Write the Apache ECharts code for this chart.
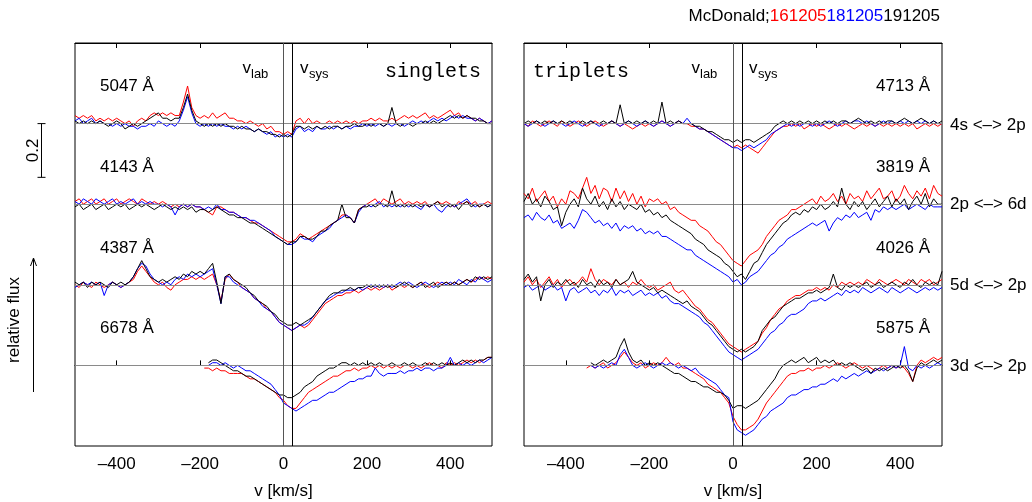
<!DOCTYPE html>
<html>
<head>
<meta charset="utf-8">
<script src="https://cdn.jsdelivr.net/npm/echarts@6/dist/echarts.min.js"></script>
<style>
html, body { margin: 0; padding: 0; background: #fff; }
#chart { width: 1032px; height: 502px; }
</style>
</head>
<body>
<div id="chart"></div>
<script>
// ---- sampling and reference velocities (km/s) ----
const VEL_STEP = 10;
const velTicks = [-400, -200, 0, 200, 400];
const vLab = 0;
const vSys = 22;

// vertical offsets of the four stacked line profiles (relative flux)
const offsets = [0.9, 0.6, 0.3, 0.0];

// ---- line profiles: deviation from continuum in percent, one value per 10 km/s ----
// He I 5047 (v = -500 ... 500)
const he5047_red = [
  3,2,3,2,3,1,2,1,2,1,  2,1,0,1,-1,1,2,1,3,4,  3,4,3,4,3,3,8,14,6,3,  2,3,2,4,2,3,4,2,2,1,
  1,0,1,0,-1,0,-2,-1,-3,-3,  -4,-3,-4,1,2,0,2,0,1,0,  0,1,0,1,0,1,0,1,0,1,  1,2,1,2,1,1,2,1,2,3,
  2,3,2,3,4,2,3,2,3,4,  5,3,4,2,3,2,1,2,1,0,  1];
const he5047_blue = [
  1,2,0,1,2,0,1,0,0,-1,  0,-1,0,-1,-1,-2,-1,-1,0,-1,  1,0,-1,0,-1,1,5,10,4,0,  -1,0,-1,0,-1,0,-1,-1,-2,-1,
  -2,-1,-2,-3,-2,-3,-4,-3,-5,-4,  -5,-4,-5,-2,-1,-3,-2,-3,-1,-2,  -2,-1,-2,-1,-2,-1,-2,-1,-1,0,  -1,0,-1,0,-1,0,-1,0,0,-1,
  0,1,0,1,0,1,2,1,2,1,  2,3,2,3,2,2,1,2,1,0,  1];
const he5047_black = [
  1,0,1,0,1,0,1,0,-1,0,  1,0,-2,-1,0,-1,0,1,2,3,  4,2,2,1,2,2,6,11,5,1,  0,-1,0,-1,0,-1,0,-1,-1,-2,
  -1,-2,-2,-3,-2,-3,-3,-4,-4,-5,  -4,-5,-4,-1,-1,-2,-1,-2,-1,-2,  -1,-2,-1,-1,-2,-1,-1,0,-1,-1,  0,-1,0,0,-1,0,6,0,-1,0,
  0,-1,0,0,1,0,1,0,1,2,  3,2,3,2,3,2,2,1,1,0,  0];

// He I 4143
const he4143_red = [
  1,2,0,1,2,0,1,2,0,1,  2,0,1,2,1,0,2,1,0,1,  0,1,0,-1,0,-1,0,-1,0,-1,  -1,-2,-3,-4,-1,-1,-2,-3,-3,-4,
  -5,-5,-6,-7,-7,-8,-9,-10,-11,-12,  -13,-14,-14,-13,-11,-12,-13,-12,-11,-10,  -9,-8,-7,-6,-4,-4,-5,-7,-2,-1,  0,1,2,0,2,1,0,1,2,0,
  1,0,1,0,1,-1,0,1,0,1,  0,-1,1,0,1,0,1,-1,0,1,  0];
const he4143_blue = [
  1,0,2,1,0,2,1,0,1,2,  0,1,0,1,2,0,1,0,1,0,  0,-1,0,-1,-4,-1,0,-1,0,-1,  -1,-2,-1,-2,0,-2,-2,-3,-3,-4,
  -5,-5,-6,-6,-7,-8,-9,-10,-12,-13,  -14,-15,-15,-14,-12,-13,-13,-14,-12,-11,  -10,-9,-7,-6,-5,-4,-5,-7,-3,-1,  0,-1,0,1,-1,0,-1,0,-1,0,
  -1,0,-1,-2,0,-1,0,-2,-3,-1,  0,-1,0,1,2,0,-1,0,0,-1,  0];
const he4143_black = [
  -1,0,-2,-1,0,-2,-1,0,-2,-1,  0,-1,0,-2,-1,0,-1,0,-1,-2,  -1,0,-1,-2,-1,-2,-1,-2,-1,-3,  -2,-2,-3,-2,-1,-2,-3,-4,-4,-5,
  -5,-6,-7,-7,-8,-9,-10,-11,-12,-13,  -14,-15,-14,-14,-12,-12,-13,-13,-12,-10,  -10,-8,-7,-6,0,-5,-5,-7,-2,-1,  -1,0,-1,0,0,-1,5,-1,0,-1,
  0,-1,0,-1,0,-1,0,1,-1,0,  -1,0,-2,0,1,-1,0,-1,0,-1,  0];

// He I 4387
const he4387_red = [
  0,-1,1,0,-1,1,0,-1,0,1,  0,-1,0,1,2,5,7,5,3,1,  0,1,-1,-2,0,1,2,2,3,2,  3,2,3,4,0,-6,2,4,2,1,
  -1,-2,-3,-5,-6,-7,-9,-10,-12,-14,  -15,-16,-17,-16,-15,-16,-15,-13,-11,-9,  -7,-6,-5,-4,-4,-3,-3,-2,-3,-2,  -1,-2,-1,-2,-1,0,-2,-1,0,-1,
  0,-1,0,1,0,-1,0,1,0,1,  0,1,0,1,2,1,2,3,2,3,  2];
const he4387_blue = [
  -1,0,1,0,1,0,1,-4,0,1,  0,-1,0,1,3,6,8,7,4,2,  1,0,1,0,2,3,2,4,3,4,  3,4,5,6,0,-7,3,3,1,0,
  -1,-2,-3,-5,-6,-8,-9,-10,-12,-14,  -15,-16,-17,-16,-15,-15,-14,-12,-10,-8,  -6,-5,-4,-3,-3,-2,-2,-2,-1,-2,  -1,0,-1,0,-1,0,-1,0,1,0,
  1,0,-1,0,1,0,-1,0,1,0,  1,0,2,1,0,2,1,3,2,1,  2];
const he4387_black = [
  1,0,1,-1,1,0,1,0,-1,1,  0,1,0,1,3,6,9,6,3,2,  1,2,1,2,3,2,4,3,5,4,  5,4,6,8,1,-7,3,4,2,1,
  0,-1,-3,-4,-6,-7,-8,-10,-11,-13,  -14,-15,-15,-14,-15,-14,-13,-12,-10,-8,  -6,-4,-3,-3,-2,-2,-1,-2,-1,-1,  0,-1,0,-1,0,-1,0,-1,0,1,
  0,-1,0,1,-1,0,1,-1,0,1,  0,1,0,1,2,1,3,2,3,2,  3];

// He I 6678 (red from -190, blue and black from -180)
const he6678_red = [
  -1,-1,-2,-1,-2,-2,-3,-3,-3,-3,  -4,-5,-5,-6,-7,-8,-9,-10,-12,-13,  -15,-16,-16,-14,-12,-10,-9,-8,-7,-6,
  -5,-4,-4,-3,-2,-2,-1,-2,-1,-1,  0,-1,0,-1,0,-1,0,-1,0,0,  -1,0,-1,0,1,0,0,-1,1,0,  1,0,1,2,1,2,1,2,3,3];
const he6678_blue = [
  0,1,1,0,1,0,-1,0,-1,-2,  -2,-3,-4,-5,-6,-7,-9,-11,-14,-15,  -16,-17,-16,-15,-14,-13,-13,-12,-11,-10,
  -10,-9,-8,-7,-6,-6,-5,-5,-4,-4,  -1,-3,-4,-3,-3,-3,-2,-3,-2,-2,  -1,-2,-1,-1,-2,-1,-1,0,3,0,  1,0,1,0,1,2,1,2,3];
const he6678_black = [
  1,2,2,1,0,-1,-2,-2,-3,-4,  -4,-5,-6,-7,-8,-9,-10,-11,-11,-12,  -12,-11,-10,-8,-7,-6,-4,-3,-2,-1,
  -1,0,1,1,0,1,0,1,0,1,  0,1,0,0,1,0,0,1,0,1,  0,0,1,0,1,0,1,0,1,0,  1,2,1,2,1,2,2,3,3];
const start6678 = { red: -190, blue: -180, black: -180 };

// He I 4713
const he4713_red = [
  0,-1,1,0,-1,0,1,0,-1,1,  0,-1,0,1,0,-1,0,1,0,-1,  0,1,0,-1,0,-1,-2,-1,0,-1,  0,-1,0,1,0,-1,0,1,0,0,
  -1,-1,-2,-2,-3,-4,-5,-6,-7,-8,  -9,-8,-9,-8,-9,-10,-11,-9,-7,-5,  -3,-2,-1,-1,0,-1,0,-2,-1,0,  -1,0,-1,-2,-1,0,-1,0,-1,-2,
  -1,0,-1,0,-1,0,-1,0,-1,0,  -1,0,-1,0,-2,-1,0,-1,0,-1,  0];
const he4713_blue = [
  0,-1,0,1,0,-1,0,1,0,0,  -1,0,1,0,-1,0,1,0,-1,0,  0,1,0,-1,0,1,0,-1,0,1,  0,-1,0,1,0,-1,0,1,0,2,
  0,-1,-2,-2,-3,-4,-5,-6,-7,-8,  -9,-9,-10,-9,-8,-9,-8,-7,-6,-4,  -3,-2,-1,0,-1,0,-1,0,0,-1,  0,-1,0,1,0,-1,0,1,0,1,
  1,0,1,0,-1,0,1,0,1,0,  1,0,1,0,1,0,1,0,1,0,  0];
const he4713_black = [
  0,1,0,1,0,1,0,1,0,1,  0,1,0,0,1,0,1,0,0,1,  0,1,0,7,0,1,0,1,0,1,  0,1,0,8,0,1,0,1,0,0,
  0,-1,-1,-2,-3,-3,-4,-5,-6,-6,  -7,-6,-7,-6,-6,-7,-6,-5,-4,-3,  -1,0,1,0,1,0,1,0,1,0,  1,0,1,0,1,0,1,1,0,1,
  2,1,0,1,0,1,0,1,1,0,  1,2,1,0,1,2,1,0,1,0,  1];

// He I 3819
const he3819_red = [
  4,2,6,1,3,5,1,3,-1,2,  0,5,4,2,6,10,4,7,2,6,  5,1,6,2,5,1,4,0,3,-1,  2,1,2,0,1,-2,-1,-3,-4,-5,
  -6,-6,-8,-9,-10,-12,-14,-15,-17,-19,  -21,-22,-23,-21,-19,-18,-17,-15,-12,-10,  -8,-6,-5,-4,-2,-2,-1,0,1,2,  0,3,1,2,4,1,3,0,4,2,
  3,1,5,2,4,6,2,3,5,1,  3,7,4,2,5,3,6,2,7,4,  3];
const he3819_blue = [
  -5,-4,-6,-3,-5,-6,-4,-7,-6,-9,  -8,-7,-9,-6,-2,-3,-5,-7,-6,-8,  -7,-9,-7,-10,-8,-9,-8,-10,-9,-11,  -10,-11,-10,-12,-12,-13,-14,-15,-16,-17,
  -17,-19,-20,-21,-22,-23,-24,-25,-26,-27,  -29,-28,-30,-29,-27,-26,-25,-23,-21,-19,  -18,-16,-15,-13,-12,-11,-10,-9,-8,-7,  -8,-7,-6,-10,-7,-5,-6,-4,-5,-3,
  -5,-4,-3,-6,-2,-3,-1,-2,-1,-2,  -1,0,-2,-1,0,-1,-2,0,-1,-1,  -1];
const he3819_black = [
  1,4,0,2,-1,3,1,-2,-1,-8,  -3,0,2,-1,6,2,0,3,-1,1,  -2,2,-1,1,-2,0,-1,-2,0,-3,  -2,-4,-3,-5,-4,-6,-7,-8,-9,-10,
  -11,-13,-14,-15,-17,-18,-19,-20,-22,-23,  -25,-27,-26,-28,-25,-22,-21,-18,-15,-13,  -11,-9,-7,-6,-4,-3,-4,-2,-3,-1,  -2,0,-2,-1,1,-1,6,0,-2,1,
  -1,1,-2,0,2,-1,1,3,-1,2,  0,2,-2,1,3,0,4,-1,2,0,  0];

// He I 4026
const he4026_red = [
  1,3,0,2,-1,1,3,0,2,-1,  1,2,0,1,3,1,6,2,0,2,  1,0,2,0,1,-1,1,0,2,0,  -1,0,-2,-1,0,1,-2,-3,-2,-4,
  -6,-8,-9,-11,-13,-14,-16,-18,-20,-22,  -23,-24,-25,-24,-23,-22,-21,-18,-16,-13,  -11,-9,-8,-6,-5,-4,-4,-3,-2,-2,  -1,-2,-1,-2,0,-1,1,0,1,0,
  1,0,2,1,0,2,1,0,1,2,  1,0,2,1,0,2,1,2,0,1,  2];
const he4026_blue = [
  -1,0,-2,-1,0,-2,-1,0,-2,-1,  -6,-2,-1,-3,-2,-1,-3,-2,-4,-2,  -3,-1,-4,-2,-3,-2,-4,-3,-2,-4,  -3,-4,-3,-5,-4,-6,-7,-7,-8,-9,
  -10,-11,-12,-14,-15,-17,-19,-21,-23,-25,  -26,-27,-28,-27,-26,-25,-24,-22,-20,-18,  -17,-15,-14,-12,-11,-11,-10,-9,-7,-6,  -6,-5,-6,-5,-4,-3,-4,-2,-3,-2,
  -3,-1,-2,-3,-2,-1,-2,-3,-1,-2,  -3,-2,-1,-2,-3,-2,-1,-2,-1,-2,  -1];
const he4026_black = [
  2,4,1,3,-6,0,2,-1,1,0,  2,0,1,-1,2,0,1,-1,2,0,  1,-1,2,0,1,2,5,1,0,-1,  -2,-1,-3,-2,-3,-4,-5,-6,-7,-6,
  -8,-9,-10,-12,-14,-15,-17,-19,-21,-23,  -24,-25,-24,-25,-24,-23,-21,-17,-15,-13,  -12,-10,-8,-7,-6,-5,-5,-4,-3,-3,  -2,-3,-2,-1,4,-1,-2,0,-1,0,
  -1,0,1,-1,0,1,-1,0,1,0,  -1,1,0,2,0,-1,1,0,1,0,  5];

// He I 5875 (red from -350, blue and black from -340)
const he5875_red = [
  -1,0,-1,0,1,-1,0,1,3,5,  3,1,0,1,-1,0,1,0,1,3,  1,0,1,-1,-1,-2,-3,-4,-5,-7,  -8,-9,-10,-12,-14,-19,-22,-24,-24,-23,
  -22,-20,-17,-14,-12,-10,-8,-6,-4,-3,  -3,-2,-2,-1,-2,-1,-1,0,-1,0,  1,0,-1,0,1,0,-1,0,-1,-2,  -1,0,-1,0,-1,0,-1,-3,-6,0,
  2,1,2,3,2,3];
const he5875_blue = [
  0,-1,0,-1,0,1,0,4,6,3,  0,-1,0,1,0,-1,0,1,0,1,  0,-1,0,-1,-2,-1,-3,-4,-5,-6,  -7,-9,-11,-12,-21,-24,-25,-26,-25,-24,
  -22,-20,-19,-17,-16,-15,-14,-12,-11,-11,  -10,-9,-9,-8,-8,-7,-7,-6,-5,-6,  -4,-5,-4,-3,-4,-3,-2,-3,-2,-1,  -2,-1,0,-1,0,7,-1,-2,0,-1,
  0,-1,0,1,0];
const he5875_black = [
  1,0,1,2,1,2,3,7,10,5,  2,1,2,0,1,0,1,0,-1,-2,  -3,-3,-4,-5,-6,-6,-7,-8,-8,-9,  -10,-10,-11,-13,-16,-15,-15,-16,-15,-14,
  -13,-11,-9,-7,-5,-2,0,1,2,1,  2,3,1,2,3,1,2,1,2,0,  1,0,1,0,-1,-2,-1,-3,-1,-2,  -1,-2,-1,0,-1,0,-2,-6,-1,1,
  0,1,2,1,2];
const start5875 = { red: -350, blue: -340, black: -340 };
const fullStart = { red: -500, blue: -500, black: -500 };

// line labels
const singletLabels = ['5047 Å', '4143 Å', '4387 Å', '6678 Å'];
const tripletLabels = ['4713 Å', '3819 Å', '4026 Å', '5875 Å'];
const tripletTransitions = ['4s <–> 2p', '2p <–> 6d', '5d <–> 2p', '3d <–> 2p'];

// observing nights and their colours
const nights = ['161205', '181205', '191205'];
const nightColors = { red: '#ff0000', blue: '#0000ff', black: '#000000' };

// scale bar on the flux axis
const scaleBarFrom = 0.9;
const scaleBarLength = 0.2;

const FONT = '"Liberation Sans", Arial, Helvetica, sans-serif';

const singletProfiles = [
  { red: he5047_red, blue: he5047_blue, black: he5047_black, start: fullStart },
  { red: he4143_red, blue: he4143_blue, black: he4143_black, start: fullStart },
  { red: he4387_red, blue: he4387_blue, black: he4387_black, start: fullStart },
  { red: he6678_red, blue: he6678_blue, black: he6678_black, start: start6678 }
];
const tripletProfiles = [
  { red: he4713_red, blue: he4713_blue, black: he4713_black, start: fullStart },
  { red: he3819_red, blue: he3819_blue, black: he3819_black, start: fullStart },
  { red: he4026_red, blue: he4026_blue, black: he4026_black, start: fullStart },
  { red: he5875_red, blue: he5875_blue, black: he5875_black, start: start5875 }
];

function profileSeries(values, vStart, offset, color, panel) {
  return {
    type: 'line',
    xAxisIndex: panel * 2,
    yAxisIndex: panel,
    data: values.map((p, i) => [vStart + i * VEL_STEP, offset + p / 100]),
    symbol: 'none',
    showSymbol: false,
    lineStyle: { color: color, width: 1 },
    itemStyle: { color: color },
    silent: true,
    z: 3
  };
}

function guideSeries(panel) {
  const lines = offsets.map(o => ({ yAxis: o, lineStyle: { color: '#8a8a8a', width: 1, type: 'solid' } }));
  lines.push({ xAxis: vLab, lineStyle: { color: '#555', width: 1, type: 'solid' } });
  lines.push({ xAxis: vSys, lineStyle: { color: '#000', width: 1, type: 'solid' } });
  return {
    type: 'line',
    xAxisIndex: panel * 2,
    yAxisIndex: panel,
    data: [],
    silent: true,
    z: 2,
    markLine: {
      silent: true,
      symbol: ['none', 'none'],
      label: { show: false },
      animation: false,
      data: lines
    }
  };
}

const series = [guideSeries(0), guideSeries(1)];
[singletProfiles, tripletProfiles].forEach((profiles, panel) => {
  profiles.forEach((prof, k) => {
    ['red', 'blue', 'black'].forEach(c => {
      series.push(profileSeries(prof[c], prof.start[c], offsets[k], nightColors[c], panel));
    });
  });
});

function xAxes(panel) {
  const common = {
    type: 'value', gridIndex: panel, min: -500, max: 500, interval: 100,
    splitLine: { show: false }
  };
  return [
    Object.assign({}, common, {
      position: 'bottom',
      name: 'v [km/s]', nameLocation: 'middle', nameGap: 37,
      nameTextStyle: { fontSize: 17, color: '#000', fontFamily: FONT },
      axisLine: { show: true, lineStyle: { color: '#000', width: 1 } },
      axisTick: { show: true, inside: true, length: 5, customValues: velTicks, lineStyle: { color: '#000' } },
      axisLabel: {
        show: true, margin: 10, customValues: velTicks, fontSize: 17, color: '#000', fontFamily: FONT,
        formatter: v => String(v).replace('-', '–')
      }
    }),
    Object.assign({}, common, {
      position: 'top',
      axisLine: { show: true, lineStyle: { color: '#000', width: 1 } },
      axisTick: { show: true, inside: true, length: 5, customValues: velTicks, lineStyle: { color: '#000' } },
      axisLabel: { show: false }
    })
  ];
}

const chart = echarts.init(document.getElementById('chart'), null, { renderer: 'canvas' });

function txt(text, x, y, opts) {
  opts = opts || {};
  return {
    type: 'text',
    x: x, y: y,
    rotation: opts.rotation || 0,
    silent: true,
    z: 10,
    style: {
      text: text,
      fill: opts.fill || '#000',
      font: (opts.size || 17) + 'px ' + (opts.family || FONT),
      align: opts.align || 'left',
      textAlign: opts.align || 'left',
      verticalAlign: 'middle',
      textVerticalAlign: 'middle'
    }
  };
}

const labelRowsY = [86, 167, 248, 328];
const transitionRowsY = [125, 204, 285, 366];

const graphics = [];
singletLabels.forEach((t, k) => graphics.push(txt(t, 100, labelRowsY[k])));
tripletLabels.forEach((t, k) => graphics.push(txt(t, 930, labelRowsY[k], { align: 'right' })));
tripletTransitions.forEach((t, k) => graphics.push(txt(t, 950, transitionRowsY[k])));

// panel titles
graphics.push(txt('singlets', 385, 72, { size: 20, family: '"Liberation Mono", "DejaVu Sans Mono", monospace' }));
graphics.push(txt('triplets', 533, 72, { size: 20, family: '"Liberation Mono", "DejaVu Sans Mono", monospace' }));

// v_lab / v_sys markers
[[242.5, 251, 300, 309], [691.5, 700, 749, 758]].forEach(p => {
  graphics.push(txt('v', p[0], 68));
  graphics.push(txt('lab', p[1], 74.5, { size: 13 }));
  graphics.push(txt('v', p[2], 68));
  graphics.push(txt('sys', p[3], 74.5, { size: 13 }));
});

// observing-night header
graphics.push({
  type: 'text', x: 940, y: 16, silent: true, z: 10,
  style: {
    text: '{k|McDonald;}{r|' + nights[0] + '}{b|' + nights[1] + '}{k|' + nights[2] + '}',
    align: 'right', textAlign: 'right', verticalAlign: 'middle', textVerticalAlign: 'middle',
    font: '17px ' + FONT,
    rich: {
      k: { fill: '#000', color: '#000', fontSize: 17, fontFamily: FONT },
      r: { fill: nightColors.red, color: nightColors.red, fontSize: 17, fontFamily: FONT },
      b: { fill: nightColors.blue, color: nightColors.blue, fontSize: 17, fontFamily: FONT }
    }
  }
});

// flux axis caption with arrow
graphics.push(txt('relative flux', 14, 320, { align: 'center', rotation: Math.PI / 2 }));
graphics.push({ type: 'line', silent: true, shape: { x1: 33.5, y1: 392, x2: 33.5, y2: 259 }, style: { stroke: '#000', lineWidth: 1 } });
graphics.push({ type: 'polyline', silent: true, shape: { points: [[30.5, 266], [33.5, 258], [36.5, 266]] }, style: { stroke: '#000', lineWidth: 1, fill: null } });

chart.setOption({
  animation: false,
  backgroundColor: '#fff',
  grid: [
    { left: 75, top: 43, width: 417, height: 403, outerBoundsMode: 'none', containLabel: false,
      show: true, borderColor: '#000', borderWidth: 1, backgroundColor: 'transparent' },
    { left: 524, top: 43, width: 418, height: 403, outerBoundsMode: 'none', containLabel: false,
      show: true, borderColor: '#000', borderWidth: 1, backgroundColor: 'transparent' }
  ],
  xAxis: xAxes(0).concat(xAxes(1)),
  yAxis: [0, 1].map(p => ({
    type: 'value', gridIndex: p, min: -0.3, max: 1.2, show: false, splitLine: { show: false }
  })),
  series: series,
  graphic: { elements: graphics }
});

// scale bar placed through the flux axis
const pTop = chart.convertToPixel({ xAxisIndex: 0, yAxisIndex: 0 }, [0, scaleBarFrom]);
const pBot = chart.convertToPixel({ xAxisIndex: 0, yAxisIndex: 0 }, [0, scaleBarFrom - scaleBarLength]);
const sbx = 41.5;
graphics.push({ type: 'line', silent: true, shape: { x1: sbx, y1: pTop[1], x2: sbx, y2: pBot[1] }, style: { stroke: '#000', lineWidth: 1 } });
graphics.push({ type: 'line', silent: true, shape: { x1: sbx - 4, y1: pTop[1], x2: sbx + 4, y2: pTop[1] }, style: { stroke: '#000', lineWidth: 1 } });
graphics.push({ type: 'line', silent: true, shape: { x1: sbx - 4, y1: pBot[1], x2: sbx + 4, y2: pBot[1] }, style: { stroke: '#000', lineWidth: 1 } });
graphics.push(txt(String(scaleBarLength), 33, (pTop[1] + pBot[1]) / 2, { align: 'center', rotation: Math.PI / 2 }));
chart.setOption({ graphic: { elements: graphics } }, { replaceMerge: ['graphic'] });
</script>
</body>
</html>
